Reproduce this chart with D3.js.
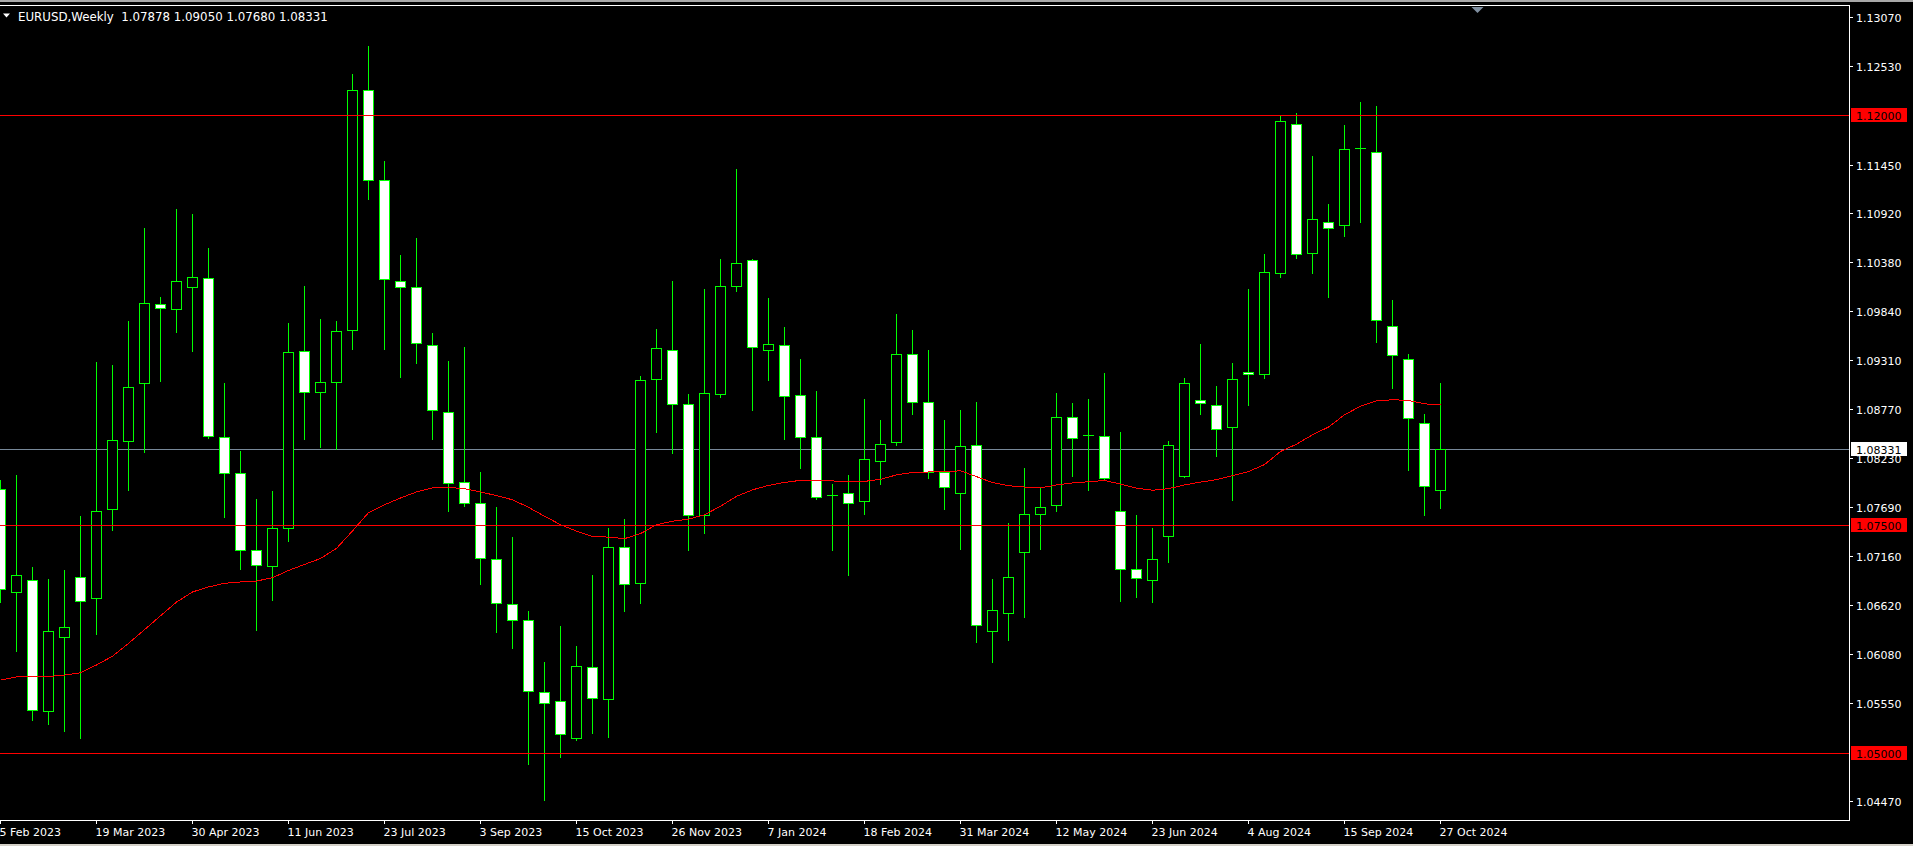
<!DOCTYPE html>
<html><head><meta charset="utf-8">
<script src="https://cdn.jsdelivr.net/npm/d3@7"></script>
<style>
html,body{margin:0;padding:0;background:#000;overflow:hidden}
svg{display:block}
</style></head><body>
<svg id="c" width="1913" height="846"></svg>
<script>
// ---- data (weekly EURUSD) ----
const symbolTitle = "EURUSD,Weekly";
const opens = [
1.0789,1.0676,1.0689,1.0546,1.0627,1.0693,1.0670,1.0767,1.0842,1.0905,
1.0992,1.0987,1.1011,1.1021,1.0846,1.0807,1.0722,1.0705,1.0747,1.0941,
1.0896,1.0907,1.0964,1.1227,1.1128,1.1017,1.1011,1.0947,1.0874,1.0797,
1.0774,1.0713,1.0663,1.0645,1.0567,1.0557,1.0516,1.0594,1.0559,1.0726,
1.0686,1.0910,1.0942,1.0883,1.0761,1.0894,1.1012,1.1040,1.0942,1.0947,
1.0892,1.0846,1.0783,1.0785,1.0776,1.0820,1.0841,1.0937,1.0885,1.0808,
1.0785,1.0837,1.0634,1.0653,1.0720,1.0762,1.0772,1.0868,1.0849,1.0847,
1.0765,1.0702,1.0689,1.0738,1.0804,1.0887,1.0881,1.0857,1.0918,1.0915,
1.1026,1.1190,1.1048,1.1082,1.1079,1.1163,1.1159,1.0968,1.0932,1.0862,
1.07878];
const highs = [
1.0799,1.0805,1.0704,1.0690,1.0700,1.0760,1.0929,1.0925,1.0973,1.1076,
1.1000,1.1096,1.1091,1.1054,1.0905,1.0831,1.0778,1.0787,1.0971,1.1012,
1.0976,1.0973,1.1245,1.1275,1.1149,1.1046,1.1065,1.0960,1.0930,1.0945,
1.0808,1.0769,1.0737,1.0655,1.0600,1.0639,1.0617,1.0695,1.0747,1.0756,
1.0913,1.0965,1.1017,1.0894,1.1009,1.1041,1.1140,1.1042,1.0999,1.0967,
1.0932,1.0897,1.0795,1.0805,1.0888,1.0865,1.0981,1.0964,1.0942,1.0865,
1.0876,1.0885,1.0690,1.0752,1.0812,1.0790,1.0895,1.0884,1.0888,1.0916,
1.0852,1.0761,1.0746,1.0842,1.0911,1.0948,1.0902,1.0927,1.1009,1.1047,
1.1200,1.1202,1.1155,1.1102,1.1189,1.1214,1.1209,1.0997,1.0937,1.0871,
1.09050];
const lows = [
1.0665,1.0612,1.0536,1.0532,1.0524,1.0516,1.0630,1.0744,1.0788,1.0830,
1.0908,1.0962,1.0941,1.0845,1.0759,1.0701,1.0635,1.0667,1.0732,1.0844,
1.0835,1.0833,1.0943,1.1107,1.0943,1.0912,1.0928,1.0844,1.0765,1.0771,
1.0685,1.0632,1.0615,1.0488,1.0448,1.0495,1.0514,1.0522,1.0517,1.0655,
1.0664,1.0852,1.0829,1.0722,1.0741,1.0890,1.1006,1.0876,1.0909,1.0844,
1.0812,1.0778,1.0722,1.0695,1.0762,1.0795,1.0837,1.0872,1.0801,1.0767,
1.0723,1.0621,1.0600,1.0624,1.0649,1.0723,1.0765,1.0804,1.0788,1.0799,
1.0666,1.0671,1.0665,1.0709,1.0802,1.0871,1.0825,1.0777,1.0881,1.0911,
1.1022,1.1043,1.1026,1.1000,1.1067,1.1082,1.0950,1.0900,1.0810,1.0761,
1.07680];
const closes = [
1.0680,1.0695,1.0547,1.0633,1.0638,1.0666,1.0765,1.0843,1.0901,1.0993,
1.0988,1.1017,1.1022,1.0847,1.0807,1.0722,1.0706,1.0746,1.0940,1.0896,
1.0907,1.0963,1.1227,1.1128,1.1020,1.1011,1.0949,1.0876,1.0796,1.0774,
1.0714,1.0664,1.0646,1.0568,1.0555,1.0521,1.0595,1.0560,1.0726,1.0685,
1.0909,1.0944,1.0883,1.0761,1.0895,1.1012,1.1037,1.0945,1.0948,1.0891,
1.0846,1.0781,1.0783,1.0774,1.0822,1.0839,1.0937,1.0885,1.0808,1.0791,
1.0836,1.0640,1.0656,1.0693,1.0762,1.0770,1.0868,1.0845,1.0849,1.0801,
1.0702,1.0692,1.0712,1.0838,1.0906,1.0884,1.0855,1.0910,1.0915,1.1027,
1.1193,1.1047,1.1085,1.1076,1.1162,1.1163,1.0975,1.0936,1.0867,1.0793,
1.08331];
const maValues = [
1.05796,1.05831,1.05831,1.05836,1.05851,1.05877,1.05962,1.06058,1.06199,1.06350,
1.06501,1.06652,1.06763,1.06818,1.06858,1.06873,1.06883,1.06919,1.06999,1.07065,
1.07130,1.07241,1.07432,1.07633,1.07719,1.07794,1.07860,1.07905,1.07910,1.07895,
1.07860,1.07820,1.07774,1.07692,1.07594,1.07501,1.07430,1.07370,1.07365,1.07348,
1.07403,1.07501,1.07539,1.07561,1.07610,1.07703,1.07812,1.07883,1.07932,1.07965,
1.07987,1.07987,1.07981,1.07970,1.07976,1.07998,1.08047,1.08074,1.08079,1.08079,
1.08093,1.08028,1.07963,1.07928,1.07914,1.07905,1.07937,1.07959,1.07972,1.07986,
1.07946,1.07901,1.07879,1.07896,1.07937,1.07968,1.07995,1.08040,1.08084,1.08160,
1.08304,1.08384,1.08487,1.08572,1.08706,1.08800,1.08858,1.08872,1.08863,1.08827,
1.08814];
const dateLabels = ["5 Feb 2023","19 Mar 2023","30 Apr 2023","11 Jun 2023","23 Jul 2023","3 Sep 2023",
  "15 Oct 2023","26 Nov 2023","7 Jan 2024","18 Feb 2024","31 Mar 2024","12 May 2024","23 Jun 2024",
  "4 Aug 2024","15 Sep 2024","27 Oct 2024"];
const barsPerDateLabel = 6;
const priceTicks = [1.13070,1.12530,1.11450,1.10920,1.10380,1.09840,1.09310,1.08770,1.08230,
  1.07690,1.07160,1.06620,1.06080,1.05550,1.04470];
const levels = [1.12000,1.07500,1.05000];
const lastPrice = 1.08331;

// ---- drawing ----
const FONT = "'DejaVu Sans', sans-serif";
const N = opens.length;
const svg = d3.select("#c");
const W = 1913, H = 846;
const plotRight = 1849, plotTop = 5, plotBottom = 820;

const x = d3.scaleLinear().domain([0, N - 1]).range([0, 1440]);
const y = d3.scaleLinear().domain([1.0447, 1.1307]).range([801, 17]);
const ry = v => Math.round(y(v));

svg.append("rect").attr("width", W).attr("height", H).attr("fill", "#000");
svg.append("rect").attr("x", 0).attr("y", 0).attr("width", W).attr("height", 2).attr("fill", "#a8a8a8");
svg.append("rect").attr("x", 0).attr("y", 844).attr("width", W).attr("height", 2).attr("fill", "#d4d0c8");

const plot = svg.append("g").attr("shape-rendering", "crispEdges");

// bid line (behind)
plot.append("line").attr("x1", 0).attr("x2", plotRight)
  .attr("y1", ry(lastPrice) + 0.5).attr("y2", ry(lastPrice) + 0.5)
  .attr("stroke", "#778899");

const data = d3.range(N).map(i => ({ i, o: opens[i], h: highs[i], l: lows[i], c: closes[i] }));

// wicks
plot.selectAll("line.wick").data(data).join("line").attr("class", "wick")
  .attr("x1", d => x(d.i) + 0.5).attr("x2", d => x(d.i) + 0.5)
  .attr("y1", d => ry(d.h)).attr("y2", d => ry(d.l) + 1)
  .attr("stroke", "#00ff00");

// bodies
data.forEach(d => {
  const top = ry(Math.max(d.o, d.c)), bot = ry(Math.min(d.o, d.c));
  const cx = x(d.i);
  if (bot - top < 1) {
    plot.append("line").attr("x1", cx - 5).attr("x2", cx + 6)
      .attr("y1", top + 0.5).attr("y2", top + 0.5).attr("stroke", "#00ff00");
  } else {
    plot.append("rect").attr("x", cx - 4.5).attr("y", top + 0.5)
      .attr("width", 10).attr("height", bot - top)
      .attr("fill", d.c < d.o ? "#ffffff" : "#000000")
      .attr("stroke", "#00ff00").attr("stroke-width", 1);
  }
});

// horizontal levels
plot.selectAll("line.level").data(levels).join("line").attr("class", "level")
  .attr("x1", 0).attr("x2", plotRight)
  .attr("y1", d => ry(d) + 0.5).attr("y2", d => ry(d) + 0.5)
  .attr("stroke", "#ff0000");

// moving average
plot.append("path").datum(maValues)
  .attr("d", d3.line().x((v, i) => x(i) + 0.5).y(v => y(v)))
  .attr("fill", "none").attr("stroke", "#ff0000").attr("stroke-width", 1);

// frame
svg.append("path").attr("shape-rendering", "crispEdges")
  .attr("d", `M0,${plotTop + 0.5}H${plotRight + 0.5}V${plotBottom + 0.5}H0`)
  .attr("fill", "none").attr("stroke", "#ffffff");

// price axis
const gy = svg.append("g").attr("transform", `translate(${plotRight},0)`)
  .call(d3.axisRight(y).tickValues(priceTicks).tickSize(4).tickPadding(3).tickFormat(d3.format(".5f")))
  .attr("font-family", FONT).attr("font-size", 11);
gy.select(".domain").remove();
gy.selectAll("line").attr("stroke", "#ffffff").attr("shape-rendering", "crispEdges");
gy.selectAll("text").attr("fill", "#ffffff").attr("dy", "0.41em");

// date axis
const gx = svg.append("g").attr("transform", `translate(0,${plotBottom})`)
  .call(d3.axisBottom(x).tickValues(dateLabels.map((d, j) => j * barsPerDateLabel))
    .tickFormat((d, j) => dateLabels[j]).tickSize(4).tickPadding(4))
  .attr("font-family", FONT).attr("font-size", 11);
gx.select(".domain").remove();
gx.selectAll("line").attr("stroke", "#ffffff").attr("shape-rendering", "crispEdges");
gx.selectAll("text").attr("fill", "#ffffff").attr("text-anchor", "start").attr("x", -1);

// level labels
const lab = svg.append("g").attr("font-family", FONT).attr("font-size", 11);
levels.forEach(v => {
  const yy = ry(v);
  lab.append("rect").attr("x", 1851).attr("y", yy - 7).attr("width", 56).attr("height", 14).attr("fill", "#ff0000");
  lab.append("text").attr("x", 1856).attr("y", yy + 4.5).attr("fill", "#000").text(d3.format(".5f")(v));
});
{
  const yy = ry(lastPrice);
  lab.append("rect").attr("x", 1851).attr("y", yy - 7).attr("width", 56).attr("height", 14).attr("fill", "#ffffff");
  lab.append("text").attr("x", 1856).attr("y", yy + 4.5).attr("fill", "#000").text(d3.format(".5f")(lastPrice));
}

// title
const last = N - 1;
svg.append("path").attr("d", "M3,13.5L10,13.5L6.5,17.5Z").attr("fill", "#ffffff");
svg.append("text").attr("x", 18).attr("y", 21)
  .attr("font-family", FONT).attr("font-size", 11.8).attr("fill", "#ffffff")
  .style("white-space", "pre")
  .text(`${symbolTitle}  ${[opens[last], highs[last], lows[last], closes[last]].map(d3.format(".5f")).join(" ")}`);

// shift marker
svg.append("path").attr("d", "M1471.5,7L1483.5,7L1477.5,13Z").attr("fill", "#7f8fa0");
</script>
</body></html>
